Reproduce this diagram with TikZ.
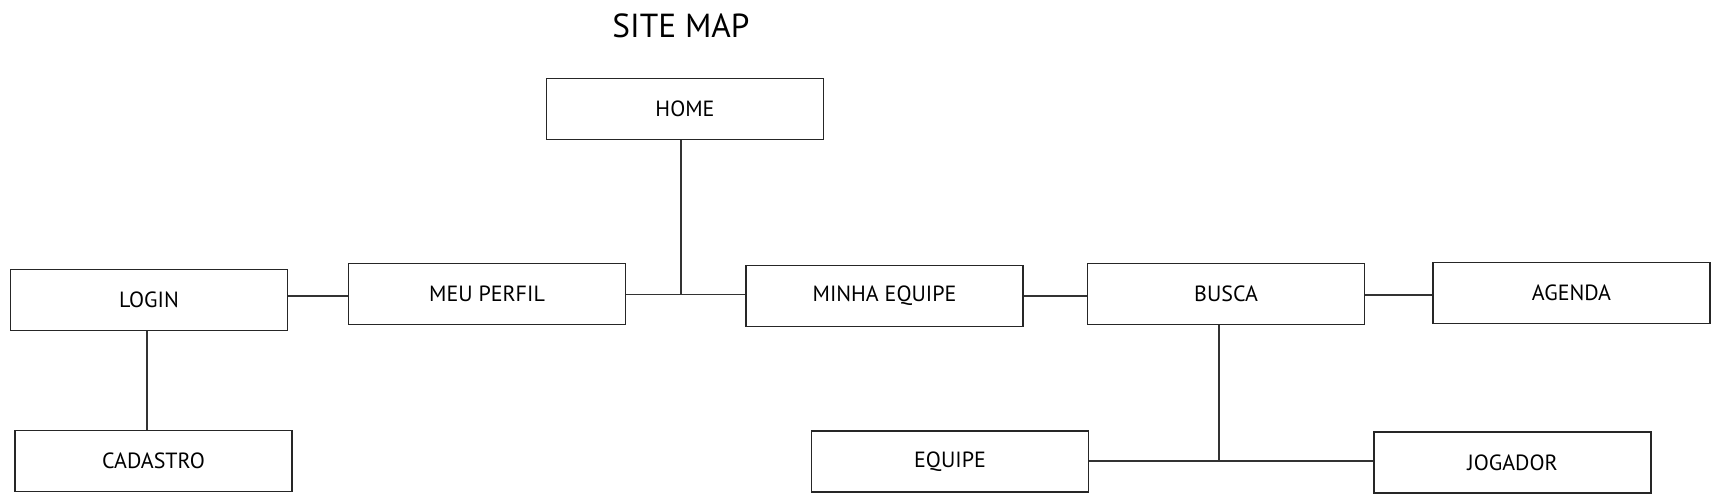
\documentclass[tikz,border=0pt]{standalone}
\usepackage{fontspec}
\setmainfont{PT Sans}
\begin{document}
\begin{tikzpicture}[x=0.75pt,y=-0.75pt,
  pagebox/.style={draw=black!85,line width=1.1pt,minimum width=207.75pt,minimum height=45.75pt,inner sep=0pt,font=\fontsize{16.5}{18}\selectfont},
  link/.style={draw=black!80,line width=1pt}]
\useasboundingbox (0,0) rectangle (1721,503);
\node[font=\fontsize{25}{28}\selectfont] (title) at (681,26) {SITE MAP};
\node[pagebox] (home) at (685,109) {HOME};
\node[pagebox] (login) at (149,300) {LOGIN};
\node[pagebox] (perfil) at (487,294) {MEU PERFIL};
\node[pagebox] (minha) at (884.5,296) {MINHA EQUIPE};
\node[pagebox] (busca) at (1226,294) {BUSCA};
\node[pagebox] (agenda) at (1571.5,293) {AGENDA};
\node[pagebox] (cadastro) at (153.5,461) {CADASTRO};
\node[pagebox] (equipe) at (950,461.5) {EQUIPE};
\node[pagebox] (jogador) at (1512.5,462.5) {JOGADOR};
\coordinate (j1) at (681,294.5);
\coordinate (j2) at (1219,461);
\coordinate (h1) at (0,296);
\coordinate (h2) at (0,296);
\coordinate (h3) at (0,295);
\coordinate (v1) at (147,0);
\draw[link] (login.east |- h1) -- (perfil.west |- h1);
\draw[link] (perfil.east |- j1) -- (minha.west |- j1);
\draw[link] (home.south -| j1) -- (j1);
\draw[link] (minha.east |- h2) -- (busca.west |- h2);
\draw[link] (busca.east |- h3) -- (agenda.west |- h3);
\draw[link] (login.south -| v1) -- (cadastro.north -| v1);
\draw[link] (equipe.east |- j2) -- (jogador.west |- j2);
\draw[link] (busca.south -| j2) -- (j2);
\end{tikzpicture}
\end{document}
